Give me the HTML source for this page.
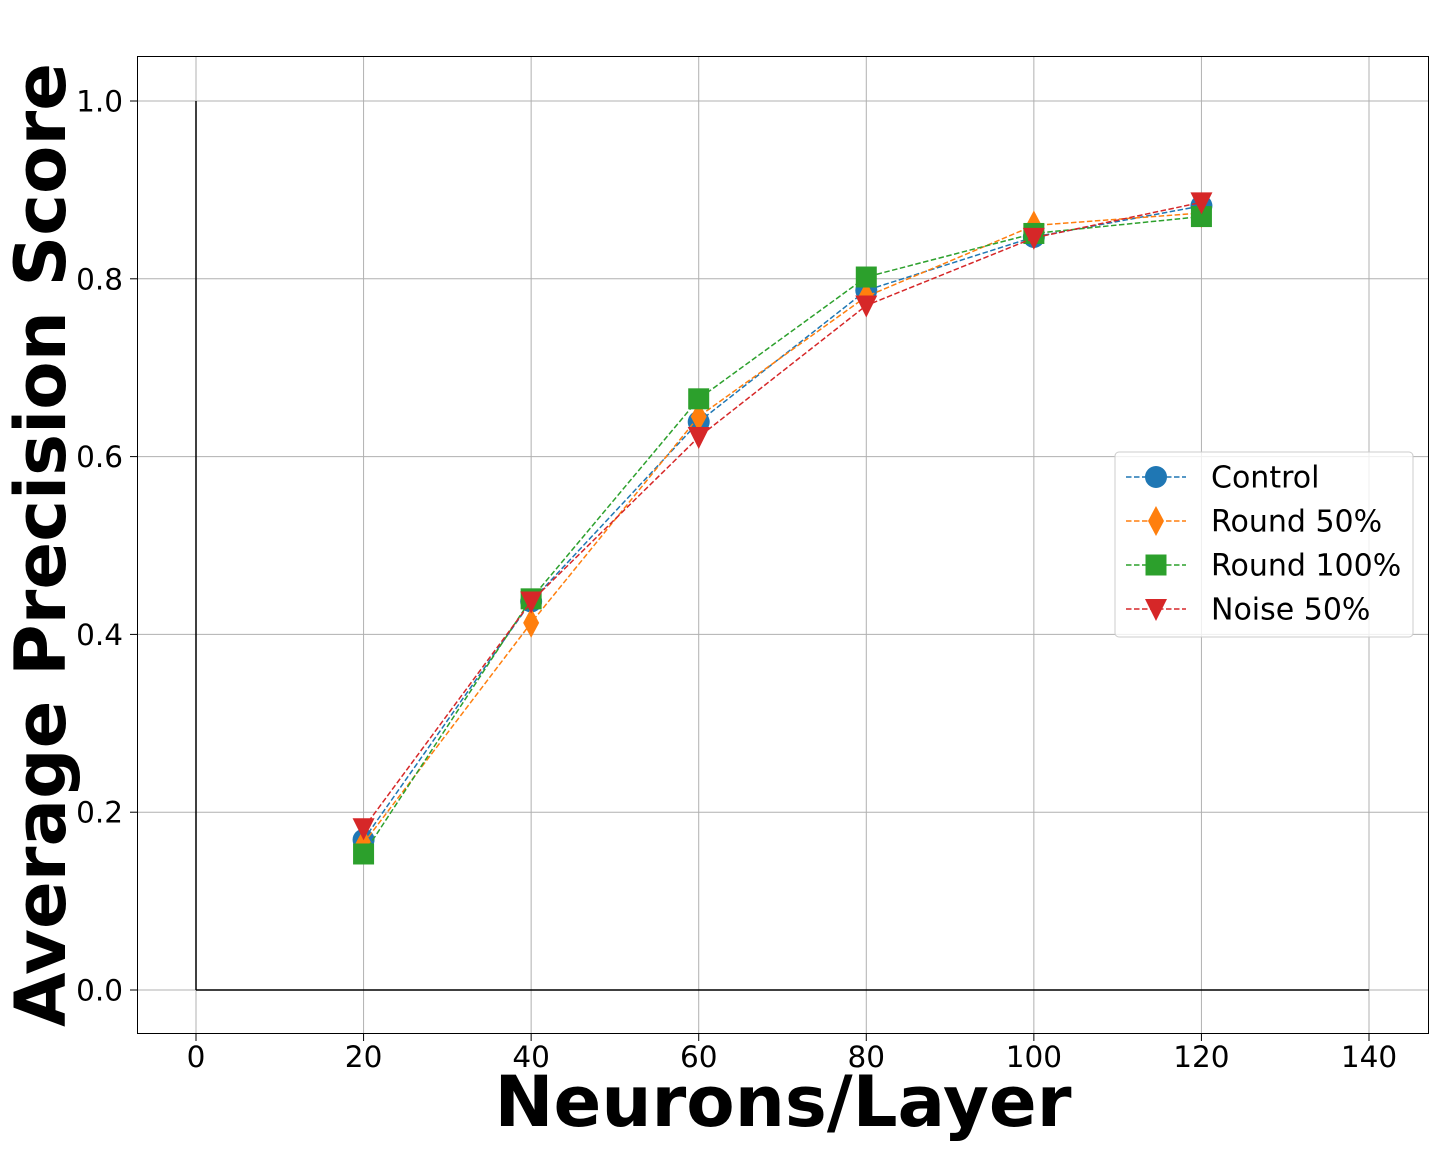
<!DOCTYPE html>
<html><head><meta charset="utf-8"><style>
body{margin:0;background:#fff}
svg{display:block;font-family:"DejaVu Sans","Liberation Sans",sans-serif}
</style></head><body>
<svg id="chart" width="1440" height="1152" viewBox="0 0 1440 1152" xmlns="http://www.w3.org/2000/svg">
<g id="grid"></g>
<line x1="196" y1="101" x2="196" y2="990" stroke="#000" stroke-width="1.5"/>
<line x1="196" y1="990" x2="1369" y2="990" stroke="#000" stroke-width="1.5"/>
<g id="series"></g>
<rect x="137.5" y="56.5" width="1291" height="977" fill="none" stroke="#000" stroke-width="1"/>
<g id="ticks"></g>
<text x="783" y="1126" font-size="70.5" font-weight="bold" text-anchor="middle">Neurons/Layer</text>
<text transform="translate(65,545) rotate(-90)" font-size="70.5" font-weight="bold" text-anchor="middle">Average Precision Score</text>
<g id="legend">
<rect x="1115" y="452" width="298" height="185" rx="4" fill="#fff" fill-opacity="0.8" stroke="#ccc"/>
</g>
</svg>
<script>
const xValues = [20, 40, 60, 80, 100, 120];
const controlValues = [0.169, 0.437, 0.639, 0.787, 0.847, 0.882];
const round50Values = [0.165, 0.413, 0.645, 0.780, 0.860, 0.874];
const round100Values = [0.153, 0.440, 0.665, 0.802, 0.851, 0.870];
const noise50Values = [0.182, 0.437, 0.622, 0.770, 0.846, 0.886];
const seriesNames = ["Control", "Round 50%", "Round 100%", "Noise 50%"];
const xTicks = [0, 20, 40, 60, 80, 100, 120, 140];
const yTicks = [0.0, 0.2, 0.4, 0.6, 0.8, 1.0];
const yTickLabels = ["0.0", "0.2", "0.4", "0.6", "0.8", "1.0"];

const NS = "http://www.w3.org/2000/svg";
function X(v){ return 196 + (v/140)*1173; }
function Y(v){ return 990 - v*889; }
function mk(tag, attrs, parent){ const e=document.createElementNS(NS,tag); for(const k in attrs) e.setAttribute(k,attrs[k]); parent.appendChild(e); return e; }

const grid=document.getElementById('grid'), ticks=document.getElementById('ticks');
xTicks.forEach(t=>{
  const gl=mk('line',{x1:X(t),x2:X(t),y1:56,y2:1034,stroke:'#b0b0b0','stroke-width':1},grid);
  
  
  const tk=mk('line',{x1:X(t),x2:X(t),y1:1034,y2:1041,stroke:'#000'},ticks);
  
  
  const tl=mk('text',{x:X(t),y:1067,'font-size':29.5,'text-anchor':'middle'},ticks);
  tl.textContent=t;
  
  
});
yTicks.forEach((t,i)=>{
  const gl=mk('line',{x1:137,x2:1429,y1:Y(t),y2:Y(t),stroke:'#b0b0b0','stroke-width':1},grid);
  
  
  const tk=mk('line',{x1:130,x2:137,y1:Y(t),y2:Y(t),stroke:'#000'},ticks);
  
  
  const tl=mk('text',{x:123,y:Y(t)+10.5,'font-size':29.5,'text-anchor':'end'},ticks);
  tl.textContent=yTickLabels[i];
  
  
});

const colors=['#1f77b4','#ff7f0e','#2ca02c','#d62728'];
const shapes=['circle','diamond','square','tri'];
const allValues=[controlValues,round50Values,round100Values,noise50Values];
function marker(shape,cx,cy,color,parent){
  let e;
  if(shape==='circle') e=mk('circle',{cx:cx,cy:cy,r:11,fill:color},parent);
  else if(shape==='diamond') e=mk('polygon',{points:`${cx},${cy-15} ${cx+8},${cy} ${cx},${cy+15} ${cx-8},${cy}`,fill:color},parent);
  else if(shape==='square') e=mk('rect',{x:cx-10.5,y:cy-10.5,width:21,height:21,fill:color},parent);
  else e=mk('polygon',{points:`${cx-11},${cy-10} ${cx+11},${cy-10} ${cx},${cy+12}`,fill:color},parent);
  return e;
}
const sg=document.getElementById('series');
allValues.forEach((vals,si)=>{
  const g=mk('g',{},sg);
  
  
  const pts=vals.map((v,i)=>X(xValues[i])+','+Y(v)).join(' ');
  const pl=mk('polyline',{points:pts,fill:'none',stroke:colors[si],'stroke-width':1.5,'stroke-dasharray':'5.5,2.5'},g);
  
  
  vals.forEach((v,i)=>{
    const m=marker(shapes[si],X(xValues[i]),Y(v),colors[si],g);
    
    
  });
});

const lg=document.getElementById('legend');
seriesNames.forEach((n,i)=>{
  const y=477+i*44;
  const g=mk('g',{},lg);
  
  
  mk('line',{x1:1126,x2:1186,y1:y,y2:y,stroke:colors[i],'stroke-width':1.5,'stroke-dasharray':'5.5,2.5'},g);
  marker(shapes[i],1156,y,colors[i],g);
  const t=mk('text',{x:1211,y:y+10.5,'font-size':30},g);
  t.textContent=n;
});
</script>
</body></html>
